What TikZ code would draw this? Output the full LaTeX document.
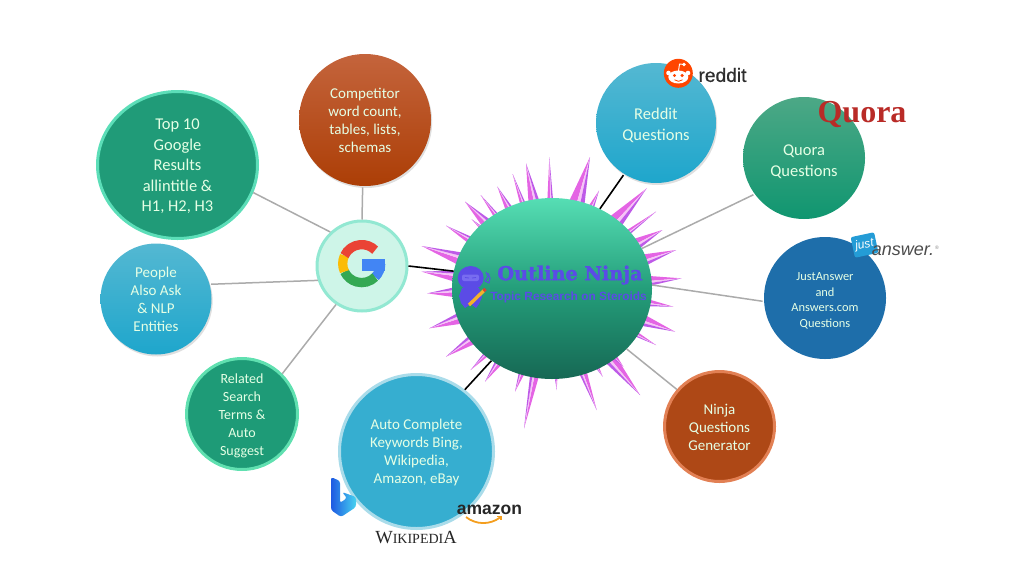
\documentclass[tikz,border=0pt]{standalone}
\usepackage{fontspec}
\setmainfont{Carlito}
\newfontfamily\lsans{Liberation Sans}
\newfontfamily\lsansm[FakeBold=0.6]{Liberation Sans}
\newfontfamily\lserif{Liberation Serif}
\newfontfamily\dserif[BoldFeatures={FakeBold=1.6}]{DejaVu Serif}
\usetikzlibrary{shapes.geometric,shadows,calc}
\definecolor{ninja}{HTML}{5B4BE6}
\definecolor{pinkA}{RGB}{228,100,228}
\definecolor{purpA}{RGB}{190,90,232}
\definecolor{pinkL}{RGB}{246,196,246}
\definecolor{skyT}{RGB}{84,184,210}
\definecolor{skyB}{RGB}{30,166,204}
\tikzset{
  bub/.style={circle,inner sep=0pt,align=center,text=white!90!green,font=\fontsize{15}{18}\selectfont,line width=3pt},
  soft/.style={drop shadow={shadow xshift=1.2pt,shadow yshift=-2pt,opacity=.25}},
  gline/.style={draw=black!33,line width=1.5pt},
  bline/.style={draw=black,line width=1.6pt},
  logotext/.style={inner sep=0pt,anchor=center}
}
\begin{document}
\begin{tikzpicture}[x=1pt,y=-1pt]
\useasboundingbox (0,0) rectangle (1024,576);
% spikes
\foreach \zx/\zy/\w in {318/10/3.5,278/42/1.8,232/80/2.5,135/125/3.5,182/105/1.8,388/-9/1.8,510/-9/5,537/92/2,680/85/5,708/155/1.8,727/210/4,768/270/4,785/355/3.5,760/440/2.5,765/515/4,708/555/1.8,660/705/4,610/620/1.8,530/750/2.5,548/650/1.3,410/690/1,312/805/2.8,285/695/2,195/665/2.5,152/630/1.8,78/590/3.5,28/505/4,22/400/3.5,5/335/4,5/258/4.5,78/197/2.5,155/178/1.2,100/420/1.2}{
  \pgfmathsetmacro\tx{420+\zx/3}
  \pgfmathsetmacro\ty{160+\zy/3}
  \pgfmathsetmacro\ang{atan2((\ty-288.5)/88,(\tx-552)/98)}
  \pgfmathsetmacro\ax{552+96*cos(\ang-\w)}
  \pgfmathsetmacro\ay{288.5+86*sin(\ang-\w)}
  \pgfmathsetmacro\bx{552+96*cos(\ang+\w)}
  \pgfmathsetmacro\by{288.5+86*sin(\ang+\w)}
  \pgfmathsetmacro\cx{552+96*cos(\ang)}
  \pgfmathsetmacro\cy{288.5+86*sin(\ang)}
  \pgfmathsetmacro\dx{552+96*cos(\ang+0.45*\w)}
  \pgfmathsetmacro\dy{288.5+86*sin(\ang+0.45*\w)}
  \fill[pinkA] (\tx,\ty) -- (\ax,\ay) -- (\cx,\cy) -- cycle;
  \fill[pinkL] (\tx,\ty) -- (\cx,\cy) -- (\dx,\dy) -- cycle;
  \fill[purpA] (\tx,\ty) -- (\dx,\dy) -- (\bx,\by) -- cycle;
}
% nodes
\node[bub,ellipse,minimum width=160pt,minimum height=147pt,draw={rgb,255:red,92;green,222;blue,184},fill={rgb,255:red,32;green,155;blue,120},font=\fontsize{16.5}{20.5}\selectfont] (top) at (177.5,165) {\rule{0pt}{14pt}Top 10\\Google\\Results\\allintitle \&\\H1, H2, H3};
\node[bub,soft,minimum size=132pt,top color={rgb,255:red,196;green,100;blue,60},bottom color={rgb,255:red,172;green,62;blue,6}] (comp) at (365,120) {Competitor\\word count,\\tables, lists,\\schemas};
\node[bub,soft,minimum size=120pt,top color=skyT,bottom color=skyB,font=\fontsize{16.5}{21}\selectfont] (red) at (656,123) {\rule{0pt}{16pt}Reddit\\Questions};
\node[bub,minimum size=122pt,top color={rgb,255:red,76;green,168;blue,134},bottom color={rgb,255:red,16;green,150;blue,112},font=\fontsize{16.5}{21}\selectfont] (quo) at (804,158) {\rule{0pt}{18pt}Quora\\Questions};
\node[bub,minimum size=122pt,fill={rgb,255:red,30;green,110;blue,170},font=\fontsize{12.4}{15.5}\selectfont] (ja) at (825,298) {\rule{0pt}{14pt}JustAnswer\\and\\Answers.com\\Questions};
\node[bub,minimum size=110pt,draw={rgb,255:red,226;green,128;blue,84},fill={rgb,255:red,174;green,72;blue,22},font=\fontsize{15}{18}\selectfont] (nq) at (719.5,426.5) {\rule{0pt}{13pt}Ninja\\Questions\\Generator};
\node[bub,minimum size=154pt,draw={rgb,255:red,170;green,220;blue,234},fill={rgb,255:red,54;green,174;blue,208}] (auto) at (416.5,451.5) {\rule{0pt}{13pt}Auto Complete\\Keywords Bing,\\Wikipedia,\\Amazon, eBay};
\node[bub,minimum size=111pt,draw={rgb,255:red,96;green,224;blue,176},fill={rgb,255:red,30;green,155;blue,119},font=\fontsize{14}{18}\selectfont] (rel) at (242,414) {\rule{0pt}{14pt}Related\\Search\\Terms \&\\Auto\\Suggest};
\node[bub,soft,minimum size=111pt,top color=skyT,bottom color=skyB,font=\fontsize{15}{18}\selectfont] (peo) at (156,299) {People\\Also Ask\\\& NLP\\Entities};
\node[circle,inner sep=0pt,minimum size=90pt,line width=3pt,draw={rgb,255:red,146;green,232;blue,210},fill={rgb,255:red,206;green,245;blue,232}] (goog) at (362,266) {};
\node[ellipse,inner sep=0pt,minimum width=200pt,minimum height=181pt,top color={rgb,255:red,86;green,222;blue,180},bottom color={rgb,255:red,22;green,104;blue,84},middle color={rgb,255:red,36;green,158;blue,122}] (main) at (552,288.5) {};
% connectors
\draw[gline] (top.-20) -- (goog.133);
\draw[gline] (comp.-92) -- (goog.90);
\draw[gline] (peo.15) -- (goog.198);
\draw[gline] (rel.45) -- (goog.236);
\draw[bline] (goog.0) -- (main.170);
\draw[bline] (red.238) -- (main.59);
\draw[gline] (quo.216) -- (main.24);
\draw[gline] (ja.183) -- (main.2);
\draw[gline] (nq.139) -- (main.-39);
\draw[bline] (auto.52) -- (main.230);
% Google G
\begin{scope}[shift={(361.7,263.6)},x=1pt,y=1pt]
  \draw[line width=9.3pt,color={rgb,255:red,66;green,133;blue,244}] (-45:19) arc[start angle=-45,end angle=0,radius=19pt];
  \fill[color={rgb,255:red,66;green,133;blue,244}] (0.5,4.3) rectangle (23.6,-7);
  \draw[line width=9.3pt,color={rgb,255:red,52;green,168;blue,83}] (-45:19) arc[start angle=-45,end angle=-155,radius=19pt];
  \draw[line width=9.3pt,color={rgb,255:red,251;green,188;blue,5}] (-155:19) arc[start angle=-155,end angle=-205,radius=19pt];
  \draw[line width=9.3pt,color={rgb,255:red,234;green,67;blue,53}] (155:19) arc[start angle=155,end angle=45,radius=19pt];
\end{scope}
% Outline Ninja logo
\fill[ninja] (470.7,278) ellipse[x radius=13pt,y radius=12pt];
\fill[ninja] (462,288) -- (479,288) -- (482,297) -- (479,304) -- (476,308) -- (471,304) -- (465,308) -- (461,303) -- (459,296) -- cycle;
\fill[color={rgb,255:red,120;green,108;blue,240},rounded corners=2pt] (462,274.5) rectangle (479,281);
\draw[ninja,line width=.8pt] (465,277.5) -- (469,278) (472,278) -- (476,277.5);
\draw[ninja,line width=1pt] (486,272) -- (488,277) -- (485,281) -- (489,283) -- (490,278) -- (488,273);
\draw[line width=3.4pt,color={rgb,255:red,244;green,176;blue,44}] (469,305) -- (484,290.5);
\draw[line width=3.4pt,color={rgb,255:red,214;green,70;blue,50}] (483.5,291) -- (485.5,289);
\node[logotext,text=ninja,font=\dserif\bfseries\fontsize{19.2}{20}\selectfont] (ontxt) at (570,275) {Outline Ninja};
\node[logotext,text=ninja,font=\lsans\bfseries\fontsize{11.9}{14}\selectfont] (ontag) at (568.5,297) {Topic Research on Steroids};
% reddit
\fill[color={rgb,255:red,255;green,69;blue,0}] (678.3,73.3) circle[radius=14.5pt];
\fill[white] (678.3,77) ellipse[x radius=10pt,y radius=6.5pt];
\fill[white] (668.5,73) circle[radius=2.3pt] (688,73) circle[radius=2.3pt] (684,64.5) circle[radius=1.8pt];
\draw[white,line width=.9pt] (678.5,71) -- (679.5,64) -- (684,64.5);
\fill[color={rgb,255:red,255;green,69;blue,0}] (674.5,75.5) circle[radius=1.7pt] (682.1,75.5) circle[radius=1.7pt];
\draw[color={rgb,255:red,255;green,69;blue,0},line width=.8pt] (674.5,79.8) .. controls (677,81.8) and (680,81.8) .. (682.5,79.8);
\node[logotext,text=black!82,font=\lsansm\fontsize{19.2}{20}\selectfont] (redtxt) at (722.5,75) {reddit};
% Quora
\node[logotext,text={rgb,255:red,185;green,43;blue,39},font=\lserif\bfseries\fontsize{32}{34}\selectfont] (quotxt) at (862,114.5) {Quora};
% JustAnswer
\node[logotext,rotate=12,fill={rgb,255:red,36;green,156;blue,214},rounded corners=2pt,minimum width=24pt,minimum height=21pt,text=white,font=\lsans\itshape\fontsize{12}{12}\selectfont] (jbox) at (864.5,245) {just};
\node[logotext,text=black!70,font=\lsans\itshape\fontsize{18}{20}\selectfont] (jtxt) at (903,251) {answer.};
\node[logotext,text=black!50,font=\lsans\fontsize{5}{6}\selectfont] (jreg) at (937,248) {®};
% Bing
\shade[left color={rgb,255:red,30;green,90;blue,226},right color={rgb,255:red,70;green,210;blue,240},rounded corners=2.5pt]
  (331,477) -- (340,481) -- (340,503) -- (347,498) -- (342,492) -- (356,497) -- (356,507) -- (341,517) -- (331,510) -- cycle;
% amazon
\node[logotext,text=black!85,font=\lsans\bfseries\fontsize{17.5}{18}\selectfont] (amtxt) at (489.5,509.5) {amazon};
\draw[line width=1.8pt,color={rgb,255:red,244;green,158;blue,30}] (466,517) .. controls (476,525) and (490,525) .. (500,517.5);
\draw[line width=1.2pt,color={rgb,255:red,244;green,158;blue,30}] (497,516.5) -- (501,516.5) -- (501,520);
% Wikipedia
\node[logotext,text=black!85,font=\lserif\fontsize{14}{16}\selectfont] (wiki) at (416,538) {{\fontsize{18.5}{16}\selectfont W}IKIPEDI{\fontsize{18.5}{16}\selectfont A}};
\end{tikzpicture}
\end{document}
